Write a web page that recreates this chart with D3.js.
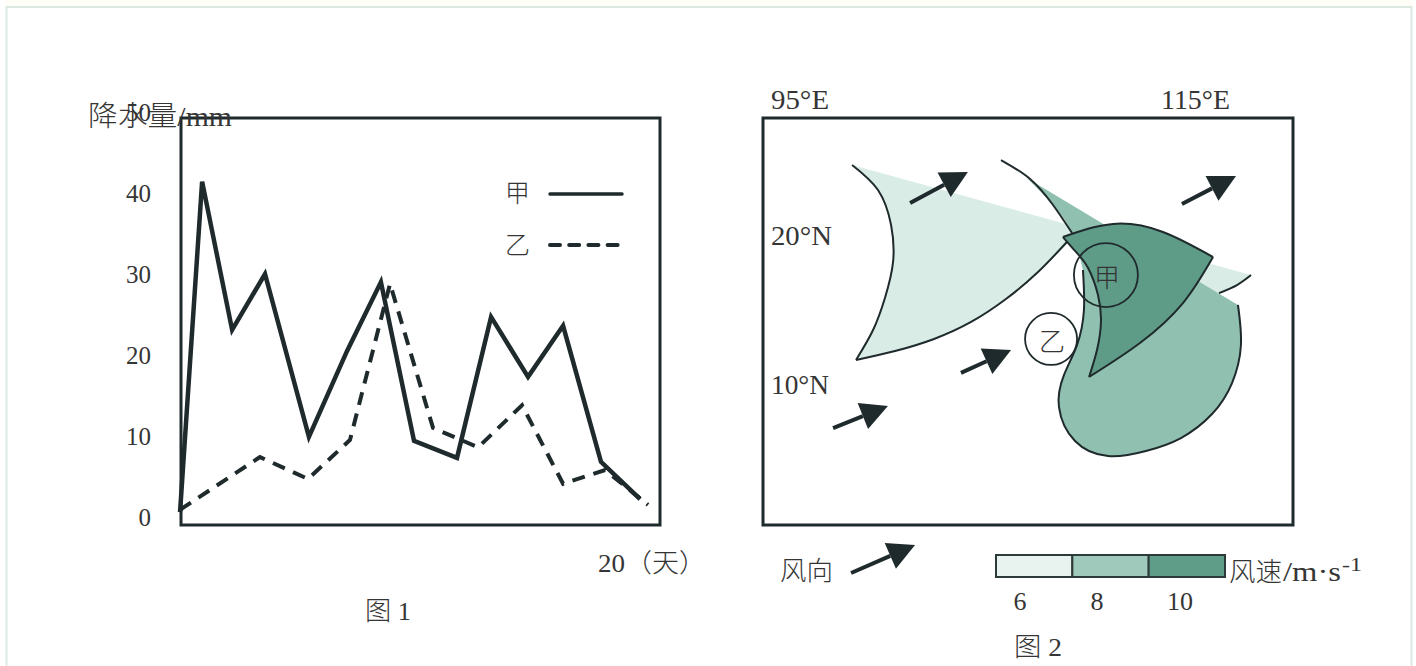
<!DOCTYPE html>
<html>
<head>
<meta charset="utf-8">
<script src="https://cdn.jsdelivr.net/npm/d3@7"></script>
<style>
  html, body { margin: 0; padding: 0; background: #fff; overflow: hidden; }
  text { font-family: "Liberation Serif", "Noto Sans CJK SC", serif; fill: #333; font-weight: 300; opacity: 0.99; }
</style>
</head>
<body>
<svg id="fig" width="1416" height="666"></svg>
<script>
// figure 1: rainfall, [day, mm]
var rainTicks = [0, 10, 20, 30, 40, 50]
var rainJia = [[-0.04, 0.6], [0.88, 41.4], [2.13, 23.1], [3.5, 30], [5.33, 9.9], [6.92, 20.5], [8.33, 29],
    [9.71, 9.4], [11.5, 7.3], [12.92, 24.7], [14.46, 17.3], [15.92, 23.6], [17.5, 6.8], [19.13, 2.2]]
var rainYi = [[-0.04, 0.9], [3.29, 7.4], [5.29, 4.7], [7.04, 9.5], [8.71, 28.8], [10.5, 11],
    [12.38, 8.6], [14.21, 13.8], [15.92, 4.1], [17.67, 5.8], [19.46, 1.5]]

// figure 2: wind speed zones, edges in [lon, lat], points about evenly spaced for the spline
var lightLeftEdge = [[97.63, 24.77], [98.94, 23.09], [99.60, 20.74], [99.70, 18.26], [99.29, 15.84], [98.69, 13.69], [97.83, 11.68]]
var lightLowerEdge = [[97.83, 11.68], [99.80, 12.28], [101.77, 13.09], [103.64, 14.23], [105.40, 15.77], [107.02, 17.58], [108.48, 19.60]]
var lightEastEdge = [[117.78, 17.38], [117.07, 16.71], [116.16, 16.17]]

var midEastEdge = [[117.12, 15.37], [117.27, 12.68], [116.82, 10.13], [115.81, 8.05], [114.24, 6.44], [112.47, 5.57], [110.56, 5.23],
    [108.89, 6.24], [108.08, 8.52], [108.33, 10.67], [108.99, 12.68], [109.34, 15.03], [109.29, 17.72]]
var midNorthEdge = [[105.15, 25.10], [106.62, 23.83], [107.78, 22.08], [108.74, 20.20]]
var midNorthFill = [[109.29, 17.72], [108.74, 20.20], [107.78, 22.08], [106.46, 23.89]]

var darkTopEdge = [[108.28, 19.93], [110.81, 20.81], [113.33, 20.27], [115.86, 18.59]]
var darkLowerEdge = [[115.86, 18.59], [114.34, 15.50], [112.17, 12.82], [109.60, 10.54]]
var darkLeftEdge = [[109.60, 10.54], [110.00, 12.35], [110.20, 14.23], [110.05, 16.04], [109.55, 17.85], [108.94, 18.93], [108.28, 19.93]]

var windArrows = [
    [[100.56, 22.21], [103.48, 24.30]],
    [[114.29, 22.15], [117.02, 24.03]],
    [[103.13, 10.81], [105.66, 12.35]],
    [[96.67, 7.11], [99.44, 8.59]],
    [[97.58, -2.62], [100.81, -0.74]] // the one in the legend
]
var places = [{ name: '甲', lon: 110.45, lat: 17.38, r: 32 }, { name: '乙', lon: 107.68, lat: 13.09, r: 26 }]

var speedLabels = ['6', '8', '10']
var speedColors = ['#e8f2ee', '#9fcabb', '#5f9d89']

var ink = '#1f2a2c'
var lightFill = '#d9ede6', midFill = '#90c1b0', darkFill = '#5f9c88'

var svg = d3.select('#fig')

// page frame
svg.append('rect').attr('x', 5).attr('y', 0).attr('width', 1408).attr('height', 6).attr('fill', '#fffdf8')
svg.append('rect').attr('x', 6.5).attr('y', 7).attr('width', 1405).attr('height', 670)
    .attr('fill', 'none').attr('stroke', '#dce9e3').attr('stroke-width', 2)

// ---- figure 1 ----
var x = d3.scaleLinear().domain([0, 20]).range([181, 661])
var y = d3.scaleLinear().domain([0, 50]).range([517, 112])

svg.append('rect').attr('x', 181).attr('y', 118).attr('width', 479).attr('height', 407)
    .attr('fill', 'none').attr('stroke', ink).attr('stroke-width', 3)

var yAxis = svg.append('g').attr('transform', 'translate(151,0)')
    .call(d3.axisLeft(y).tickValues(rainTicks).tickSize(0).tickPadding(0))
yAxis.select('.domain').remove()
yAxis.selectAll('text').attr('font-size', 25)

var rainLine = d3.line().x(function (d) { return x(d[0]) }).y(function (d) { return y(d[1]) })

svg.append('path').datum(rainJia).attr('fill', 'none').attr('stroke', ink).attr('stroke-width', 4.5)
    .attr('d', rainLine)
svg.append('path').datum(rainYi).attr('fill', 'none').attr('stroke', ink).attr('stroke-width', 4)
    .attr('stroke-dasharray', '13 9').attr('d', rainLine)

// line legend
svg.append('line').attr('x1', 550).attr('x2', 622).attr('y1', 194).attr('y2', 194)
    .attr('stroke', ink).attr('stroke-width', 3.5).attr('stroke-linecap', 'round')
svg.append('line').attr('x1', 550).attr('x2', 619).attr('y1', 245).attr('y2', 245)
    .attr('stroke', ink).attr('stroke-width', 4).attr('stroke-linecap', 'round').attr('stroke-dasharray', '10 9.2')

// ---- figure 2 ----
var lon = d3.scaleLinear().domain([95, 115]).range([800, 1196])
var lat = d3.scaleLinear().domain([10, 20]).range([385, 236])

var edgeLine = d3.line().x(function (d) { return lon(d[0]) }).y(function (d) { return lat(d[1]) })
    .curve(d3.curveNatural)

// joins several edges in one outline, straight between them
function outline(edges) {
    return edges.map(function (e, i) {
        var d = edgeLine(e)
        return i == 0 ? d : 'L' + d.slice(1)
    }).join('') + 'Z'
}

svg.append('path').attr('fill', lightFill)
    .attr('d', outline([lightLeftEdge, lightLowerEdge, lightEastEdge.slice().reverse()]))
svg.append('path').attr('fill', midFill)
    .attr('d', outline([midEastEdge, midNorthFill]))
svg.append('path').attr('fill', darkFill)
    .attr('d', outline([darkTopEdge, darkLowerEdge, darkLeftEdge]))

var strokes = [lightLeftEdge, lightLowerEdge, lightEastEdge, midEastEdge, midNorthEdge, darkTopEdge, darkLowerEdge, darkLeftEdge]
svg.selectAll('.edge').data(strokes).enter().append('path')
    .attr('class', 'edge').attr('fill', 'none').attr('stroke', ink).attr('stroke-width', 2)
    .attr('d', function (d) { return edgeLine(d) })

svg.selectAll('.place').data(places).enter().append('circle')
    .attr('class', 'place').attr('fill', 'none').attr('stroke', ink).attr('stroke-width', 1.8)
    .attr('cx', function (d) { return lon(d.lon) })
    .attr('cy', function (d) { return lat(d.lat) })
    .attr('r', function (d) { return d.r })
svg.selectAll('.placeName').data(places).enter().append('text')
    .attr('class', 'placeName').attr('text-anchor', 'middle').attr('font-size', 26)
    .attr('x', function (d) { return lon(d.lon) + 1 })
    .attr('y', function (d) { return lat(d.lat) + 12 })
    .text(function (d) { return d.name })

// map box goes over the fills
svg.append('rect').attr('x', 763).attr('y', 118).attr('width', 530).attr('height', 407)
    .attr('fill', 'none').attr('stroke', ink).attr('stroke-width', 3)

// wind arrows, head is worked out from the tail-tip direction
windArrows.forEach(function (a) {
    var tx = lon(a[0][0]), ty = lat(a[0][1]), hx = lon(a[1][0]), hy = lat(a[1][1])
    var ang = Math.atan2(hy - ty, hx - tx)
    var bx = hx - 27 * Math.cos(ang), by = hy - 27 * Math.sin(ang)
    svg.append('line').attr('x1', tx).attr('y1', ty).attr('x2', bx).attr('y2', by)
        .attr('stroke', ink).attr('stroke-width', 4)
    svg.append('polygon').attr('fill', ink).attr('points', [
        [hx, hy],
        [bx + 14 * Math.sin(ang), by - 14 * Math.cos(ang)],
        [bx - 14 * Math.sin(ang), by + 14 * Math.cos(ang)]
    ].join(' '))
})

// speed legend
var cell = d3.scaleBand().domain(speedLabels).range([996, 1225])
svg.selectAll('.cell').data(speedLabels).enter().append('rect')
    .attr('class', 'cell').attr('x', function (d) { return cell(d) }).attr('y', 555)
    .attr('width', cell.bandwidth()).attr('height', 22)
    .attr('fill', function (d, i) { return speedColors[i] })
    .attr('stroke', '#2c3a3a').attr('stroke-width', 2)
svg.selectAll('.cellLabel').data(speedLabels).enter().append('text')
    .attr('class', 'cellLabel').attr('text-anchor', 'middle').attr('font-size', 26).attr('y', 610)
    .attr('x', function (d, i) { return [1020, 1097, 1180][i] })
    .text(function (d) { return d })

// all other text: string, x, baseline, size, width
var labels = [
    ['降水量/mm', 88, 126, 28, 144], ['甲', 505, 202, 25, 25], ['乙', 505, 254, 25, 25],
    ['20（天）', 598, 572, 26, 108], ['图 1', 365, 620, 26, 46],
    ['95°E', 771, 109, 27, 58], ['115°E', 1161, 109, 27, 69], ['20°N', 771, 245, 27, 61], ['10°N', 771, 394, 27, 58],
    ['风向', 780, 580, 26, 53], ['图 2', 1014, 656, 26, 48],
    ['风速', 1229, 581, 26, 53], ['/m·s', 1283, 581, 28, 58], ['-1', 1342, 571, 19, 20]
]
svg.selectAll('.label').data(labels).enter().append('text')
    .attr('class', 'label').attr('x', function (d) { return d[1] }).attr('y', function (d) { return d[2] })
    .attr('font-size', function (d) { return d[3] })
    .attr('textLength', function (d) { return d[4] }).attr('lengthAdjust', 'spacingAndGlyphs')
    .text(function (d) { return d[0] })
</script>
</body>
</html>
